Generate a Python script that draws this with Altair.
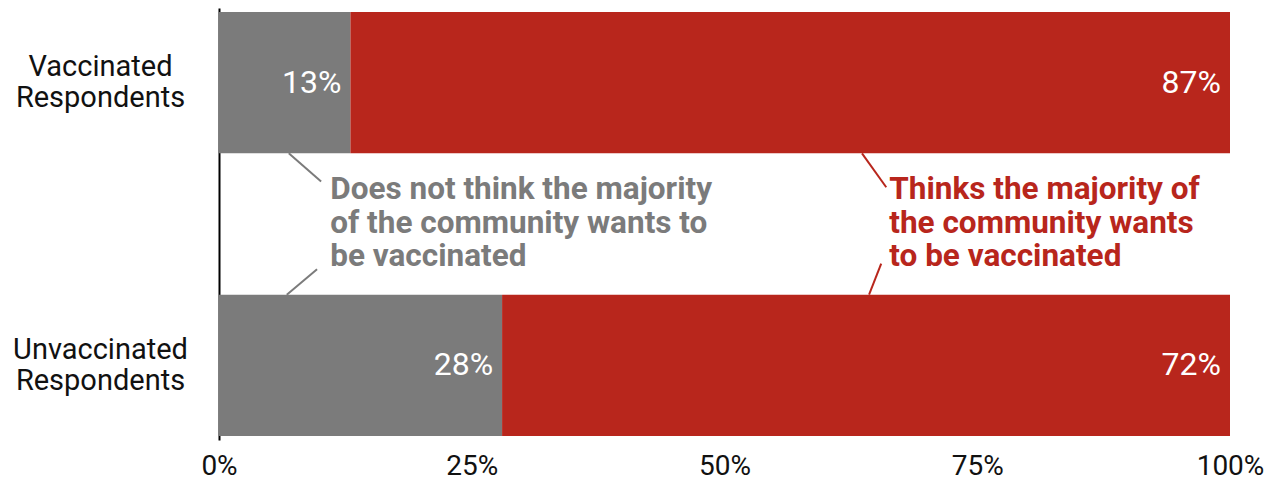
import json
import altair as alt
import pandas as pd

# ---------------- data ----------------
groups = ["Vaccinated\nRespondents", "Unvaccinated\nRespondents"]
does_not_think = [13, 28]
thinks = [87, 72]
series = ["Does not think", "Thinks"]
series_colors = ["#7b7b7b", "#b8261c"]

x_ticks = [0, 25, 50, 75, 100]

ann_text = [
    "Does not think the majority\nof the community wants to\nbe vaccinated",
    "Thinks the majority of\nthe community wants\nto be vaccinated",
]
ann_series = ["Does not think", "Thinks"]
ann_x = [11.0, 66.3]
ann_y = [0.38, 0.38]

lead_series = ["Does not think", "Does not think", "Thinks", "Thinks"]
lead_x = [6.9, 6.7, 63.6, 64.3]
lead_x2 = [10.1, 9.7, 66.0, 65.5]
lead_y = [0.25, 0.75, 0.25, 0.75]
lead_y2 = [0.35, 0.66, 0.37, 0.64]

# ---------------- tables ----------------
rows = []
for i, g in enumerate(groups):
    start = 0
    for s, v in zip(series, [does_not_think[i], thinks[i]]):
        rows.append({"group": g, "row": i, "series": s, "value": v,
                     "x": start, "x2": start + v,
                     "y": i - 0.25, "y2": i + 0.25, "yc": i,
                     "label": f"{v}%"})
        start += v
bars_df = pd.DataFrame(rows)

ann_df = pd.DataFrame({"text": ann_text, "series": ann_series, "x": ann_x, "yc": ann_y})
lead_df = pd.DataFrame({"series": lead_series, "x": lead_x, "x2": lead_x2,
                        "y": lead_y, "y2": lead_y2})

FONT = "Roboto"
label_arrays = json.dumps([g.split("\n") for g in groups])

x_scale = alt.Scale(domain=[0, 100], nice=False, zero=False)
y_scale = alt.Scale(domain=[-0.264, 1.264], reverse=True, nice=False, zero=False)
color_scale = alt.Scale(domain=series, range=series_colors)

x_axis = alt.Axis(values=x_ticks, labelExpr="datum.value + '%'", title=None,
                  domain=False, ticks=False, tickSize=0, grid=False,
                  labelFontSize=28, labelFont=FONT, labelColor="#111111",
                  labelPadding=12, labelFlush=False)
y_axis = alt.Axis(values=list(range(len(groups))), labelExpr=f"{label_arrays}[datum.value]",
                  title=None, domain=True, domainColor="#000000", domainWidth=2,
                  ticks=False, tickSize=0, grid=False, labelAlign="center",
                  labelBaseline="middle", labelPadding=119, labelFontSize=29,
                  labelFont=FONT, labelColor="#111111", labelLineHeight=31,
                  labelOffset=-16, labelLimit=400)

bars = alt.Chart(bars_df).mark_bar(cornerRadius=0).encode(
    x=alt.X("x:Q", scale=x_scale, axis=x_axis),
    x2="x2:Q",
    y=alt.Y("y:Q", scale=y_scale, axis=y_axis),
    y2="y2:Q",
    color=alt.Color("series:N", scale=color_scale, legend=None),
)

values = alt.Chart(bars_df).mark_text(
    align="right", baseline="middle", dx=-9, fontSize=32, font=FONT, color="white"
).encode(
    x=alt.X("x2:Q", scale=x_scale, axis=x_axis),
    y=alt.Y("yc:Q", scale=y_scale, axis=y_axis),
    text="label:N",
)

leaders = alt.Chart(lead_df).mark_rule(strokeWidth=2).encode(
    x=alt.X("x:Q", scale=x_scale, axis=x_axis),
    x2="x2:Q",
    y=alt.Y("y:Q", scale=y_scale, axis=y_axis),
    y2="y2:Q",
    color=alt.Color("series:N", scale=color_scale, legend=None),
)

notes = alt.Chart(ann_df).mark_text(
    align="left", baseline="middle", fontSize=31.5, fontWeight="bold", font=FONT,
    lineBreak="\n", lineHeight=33.5
).encode(
    x=alt.X("x:Q", scale=x_scale, axis=x_axis),
    y=alt.Y("yc:Q", scale=y_scale, axis=y_axis),
    text="text:N",
    color=alt.Color("series:N", scale=color_scale, legend=None),
)

chart = alt.layer(bars, values, leaders, notes).properties(
    width=1011, height=432,
    autosize=alt.AutoSizeParams(type="none"),
    padding={"left": 219, "top": 8, "right": 49, "bottom": 38},
    background="white",
).configure_view(stroke=None)

chart.save("out.html", embed_options={"renderer": "svg", "actions": False})
